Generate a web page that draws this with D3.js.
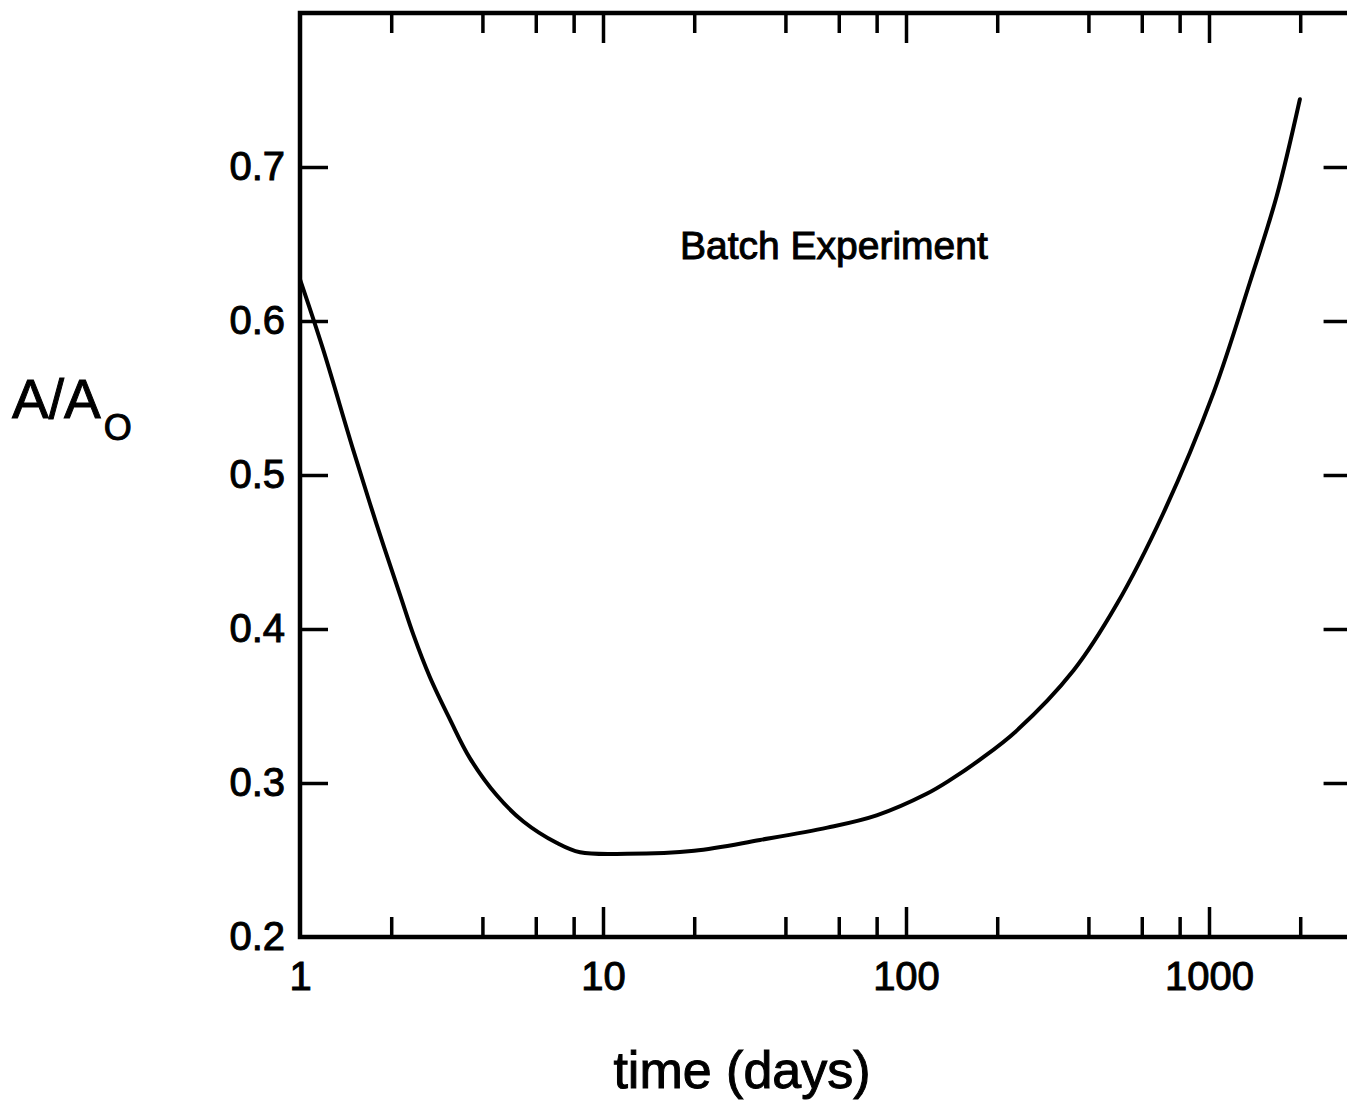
<!DOCTYPE html>
<html>
<head>
<meta charset="utf-8">
<script src="https://cdn.jsdelivr.net/npm/d3@7"></script>
<style>
  body { margin: 0; background: #fff; }
  svg { display: block; font-family: "Liberation Sans", Arial, sans-serif; }
  svg text { fill: #000; stroke: #000; stroke-width: 1px; }
  .axis text { font-size: 40px; }
  .axis line { stroke: #000; stroke-width: 3.5px; }
  .axis path { display: none; }
</style>
</head>
<body>
<svg id="chart" width="1347" height="1107"></svg>
<script>
'use strict';

// Curve: time in days vs A/Ao.
const days = [1, 1.19, 1.5, 1.79, 2.14, 2.37, 2.68, 3.13, 3.64, 4.46, 5.46, 7.05, 8.4,
  12, 20, 33, 55, 80, 117, 140, 175, 232, 357, 496, 706, 1033, 1364, 1672, 1995];
const ratio = [0.627, 0.582, 0.516, 0.468, 0.422, 0.396, 0.369, 0.341, 0.316, 0.292, 0.275, 0.261, 0.255,
  0.254, 0.256, 0.263, 0.271, 0.279, 0.293, 0.302, 0.315, 0.334, 0.373, 0.416, 0.475, 0.553, 0.625, 0.681, 0.744];

const xMajorTicks = [10, 100, 1000];
const xMinorTicks = [2, 4, 6, 8, 20, 40, 60, 80, 200, 400, 600, 800, 2000];
const xLabelTicks = [1, 10, 100, 1000];
const yTicks = [0.3, 0.4, 0.5, 0.6, 0.7];
const yLabelTicks = [0.2, 0.3, 0.4, 0.5, 0.6, 0.7];

const svg = d3.select('#chart');

const x = d3.scaleLog().domain([1, 1000]).range([300, 1209]);
const y = d3.scaleLinear().domain([0.2, 0.8]).range([937, 13]);
const xMax = 3000;

const frameLeft = x(1), frameRight = x(xMax), frameTop = y(0.8), frameBottom = y(0.2);

// Bottom axis: minor ticks, major ticks and labels, all pointing inward.
svg.append('g').classed('axis', true)
  .attr('transform', `translate(0,${frameBottom})`)
  .call(d3.axisBottom(x).tickValues(xMinorTicks).tickSizeInner(-20).tickSizeOuter(0).tickFormat(''));
svg.append('g').classed('axis', true)
  .attr('transform', `translate(0,${frameBottom})`)
  .call(d3.axisBottom(x).tickValues(xMajorTicks).tickSizeInner(-30).tickSizeOuter(0).tickFormat(''));
svg.append('g').classed('axis', true)
  .attr('transform', `translate(0,${frameBottom})`)
  .call(d3.axisBottom(x).tickValues(xLabelTicks).tickSize(0).tickPadding(25).tickFormat(d3.format('d')));

// Top axis mirrors the bottom ticks.
svg.append('g').classed('axis', true)
  .attr('transform', `translate(0,${frameTop})`)
  .call(d3.axisTop(x).tickValues(xMinorTicks).tickSizeInner(-20).tickSizeOuter(0).tickFormat(''));
svg.append('g').classed('axis', true)
  .attr('transform', `translate(0,${frameTop})`)
  .call(d3.axisTop(x).tickValues(xMajorTicks).tickSizeInner(-30).tickSizeOuter(0).tickFormat(''));

// Left and right axes.
svg.append('g').classed('axis', true)
  .attr('transform', `translate(${frameLeft},0)`)
  .call(d3.axisLeft(y).tickValues(yTicks).tickSizeInner(-28).tickSizeOuter(0).tickFormat(''));
svg.append('g').classed('axis', true)
  .attr('transform', `translate(${frameLeft},0)`)
  .call(d3.axisLeft(y).tickValues(yLabelTicks).tickSize(0).tickPadding(15).tickFormat(d3.format('.1f')));
svg.append('g').classed('axis', true)
  .attr('transform', `translate(${frameRight},0)`)
  .call(d3.axisRight(y).tickValues(yTicks).tickSizeInner(-30).tickSizeOuter(0).tickFormat(''));

// Frame.
svg.append('rect')
  .attr('x', frameLeft).attr('y', frameTop)
  .attr('width', frameRight - frameLeft).attr('height', frameBottom - frameTop)
  .attr('fill', 'none').attr('stroke', '#000').attr('stroke-width', 4.5);

// The curve.
const line = d3.line()
  .x((d, i) => x(days[i]))
  .y(d => y(d))
  .curve(d3.curveCatmullRom.alpha(0.5));

svg.append('path')
  .datum(ratio)
  .attr('d', line)
  .attr('fill', 'none')
  .attr('stroke', '#000')
  .attr('stroke-width', 4)
  .attr('stroke-linecap', 'round');

// Annotation and axis titles.
svg.append('text')
  .attr('x', 680).attr('y', 259)
  .attr('font-size', 39)
  .text('Batch Experiment');

const yTitle = svg.append('text')
  .attr('x', 12).attr('y', 418)
  .attr('font-size', 55);
yTitle.append('tspan').text('A/A');
yTitle.append('tspan').attr('font-size', 36).attr('dx', 3).attr('dy', 22).text('O');

svg.append('text')
  .attr('x', 742).attr('y', 1088)
  .attr('text-anchor', 'middle')
  .attr('font-size', 52)
  .text('time (days)');
</script>
</body>
</html>
